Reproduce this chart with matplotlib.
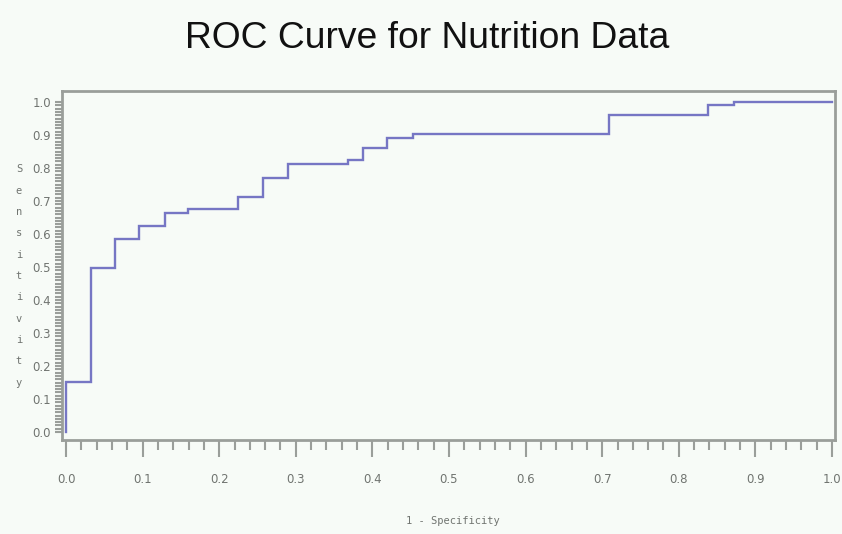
import matplotlib
matplotlib.use("Agg")
import matplotlib.pyplot as plt
import numpy as np

# ROC step points (1 - specificity, sensitivity)
fpr = [0.0, 0.0, 0.033, 0.033, 0.064, 0.064, 0.095, 0.095, 0.129, 0.129,
       0.159, 0.159, 0.225, 0.225, 0.257, 0.257, 0.290, 0.290, 0.368, 0.368,
       0.388, 0.388, 0.419, 0.419, 0.453, 0.453, 0.709, 0.709, 0.838, 0.838,
       0.872, 0.872, 1.0]
tpr = [0.0, 0.151, 0.151, 0.498, 0.498, 0.586, 0.586, 0.625, 0.625, 0.665,
       0.665, 0.677, 0.677, 0.713, 0.713, 0.770, 0.770, 0.813, 0.813, 0.825,
       0.825, 0.861, 0.861, 0.891, 0.891, 0.903, 0.903, 0.961, 0.961, 0.991,
       0.991, 1.0, 1.0]

title = "ROC Curve for Nutrition Data"
xlabel = "1 - Specificity"
ylabel = "Sensitivity"
tick_vals = [round(0.1 * i, 1) for i in range(11)]
tick_labels = ["%.1f" % v for v in tick_vals]

bg = "#f7fbf7"
grey = "#9a9e9a"
txt = "#707470"

fig = plt.figure(figsize=(8.42, 5.34), dpi=100, facecolor=bg)
ax = fig.add_axes([62 / 842, 1 - 440 / 534, (835 - 62) / 842, (440 - 91) / 534])
ax.set_facecolor(bg)

ax.plot(fpr, tpr, color="#7676c4", lw=1.7, solid_joinstyle="miter")

x0, x1 = 66, 832
xlo = (62 - x0) / (x1 - x0)
xhi = (835 - x0) / (x1 - x0)
y0, y1 = 432, 102
ylo = (y0 - 440) / (y0 - y1)
yhi = (y0 - 91) / (y0 - y1)
ax.set_xlim(xlo, xhi)
ax.set_ylim(ylo, yhi)

for s in ax.spines.values():
    s.set_color(grey)
    s.set_linewidth(2)

ax.set_xticks(tick_vals)
ax.set_xticklabels(tick_labels)
ax.set_xticks(np.arange(0, 1.0001, 0.02), minor=True)
ax.set_yticks(tick_vals)
ax.set_yticklabels(tick_labels)
ax.set_yticks(np.arange(0, 1.0001, 0.01), minor=True)

ax.tick_params(axis="x", which="major", length=12, width=1.5, color=grey,
               labelsize=8.5, labelcolor=txt, pad=12)
ax.tick_params(axis="x", which="minor", length=7, width=1.5, color=grey)
ax.tick_params(axis="y", which="major", length=5, width=1.5, color=grey,
               labelsize=8.5, labelcolor=txt, pad=3)
ax.tick_params(axis="y", which="minor", length=5, width=1.5, color=grey)

fig.text(453 / 842, 1 - 521 / 534, xlabel, ha="center", va="center",
         fontsize=7.5, color=txt, family="DejaVu Sans Mono")
fig.text(19 / 842, 1 - 276 / 534, "\n".join(ylabel), ha="center", va="center",
         fontsize=7.5, color=txt, linespacing=2.42, family="DejaVu Sans Mono")

fig.text(427 / 842, 1 - 39 / 534, title, ha="center", va="center",
         fontsize=26.8, color="#111111", family="Liberation Sans")

fig.savefig("out.png", dpi=100, facecolor=bg)
